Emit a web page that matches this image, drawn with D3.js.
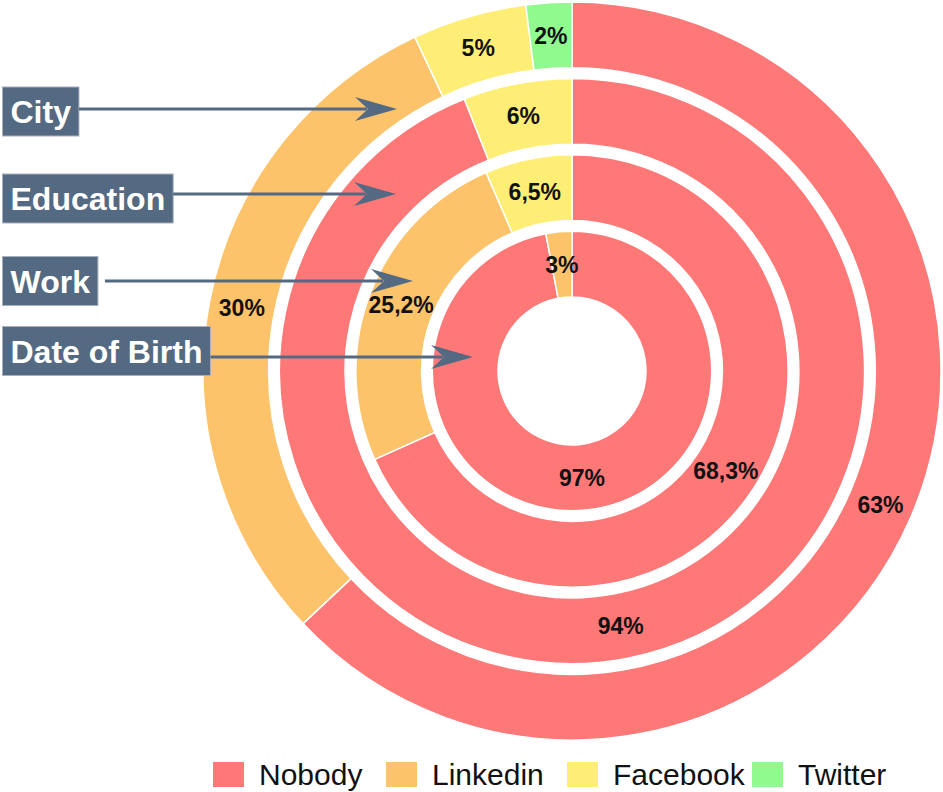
<!DOCTYPE html>
<html>
<head>
<meta charset="utf-8">
<script src="https://cdn.jsdelivr.net/npm/d3@7"></script>
<style>
  html, body { margin: 0; padding: 0; background: #ffffff; }
  svg { display: block; }
</style>
</head>
<body>
<div id="chart"></div>
<script>
// ---- data ----
const rings = ["City", "Education", "Work", "Date of Birth"];
const series = ["Nobody", "Linkedin", "Facebook", "Twitter"];
const nobody = [63, 94, 68.3, 97];
const linkedin = [30, 0, 25.2, 3];
const facebook = [5, 6, 6.5, 0];
const twitter = [2, 0, 0, 0];
const seriesColors = ["#FF7878", "#FCC36A", "#FFEE75", "#90FA8E"];

// ---- layout ----
const W = 943, H = 792;
const cx = 572, cy = 371;
const svg = d3.select("#chart").append("svg").attr("width", W).attr("height", H);
svg.append("rect").attr("width", W).attr("height", H).attr("fill", "#fff");

const color = d3.scaleOrdinal().domain(series).range(seriesColors);
const radius = d3.scaleBand().domain(rings.slice().reverse()).range([74, 369]).paddingInner(0.14);
const pie = d3.pie().sort(null).value(d => d.v);
const fmt = v => String(v).replace(".", ",") + "%";

const g = svg.append("g").attr("transform", `translate(${cx},${cy})`);

rings.forEach((ring, i) => {
  const vals = [nobody[i], linkedin[i], facebook[i], twitter[i]];
  const data = series.map((s, k) => ({ s, v: vals[k] })).filter(d => d.v > 0);
  const r0 = radius(ring), r1 = r0 + radius.bandwidth();
  const arc = d3.arc().innerRadius(r0).outerRadius(r1);
  const arcs = pie(data);
  const rg = g.append("g");
  rg.selectAll("path").data(arcs).join("path")
    .attr("d", arc)
    .attr("fill", d => color(d.data.s))
    .attr("stroke", "#fff")
    .attr("stroke-width", 1.5);
  rg.selectAll("text").data(arcs).join("text")
    .attr("transform", d => `translate(${arc.centroid(d)})`)
    .attr("text-anchor", "middle")
    .attr("dy", "0.36em")
    .attr("font-family", "'Liberation Sans', Arial, sans-serif")
    .attr("font-weight", "bold")
    .attr("font-size", 23)
    .attr("fill", "#111")
    .text(d => fmt(d.data.v));
});

// ---- annotations (ring name boxes with arrows) ----
const annot = [
  { name: "City", boxY: 111.5, arrowY: 109, startGap: 0, tipX: 397 },
  { name: "Education", boxY: 198.5, arrowY: 194, startGap: 0, tipX: 396 },
  { name: "Work", boxY: 281, arrowY: 281, startGap: 7, tipX: 413 },
  { name: "Date of Birth", boxY: 351, arrowY: 357, startGap: 0, tipX: 473 }
];
const slate = "#546A82";
const ag = svg.append("g");
annot.forEach(a => {
  const grp = ag.append("g");
  const rect = grp.append("rect");
  const t = grp.append("text")
    .attr("x", 2.5 + 8)
    .attr("y", a.boxY)
    .attr("dy", "0.36em")
    .attr("font-family", "'Liberation Sans', Arial, sans-serif")
    .attr("font-weight", "bold")
    .attr("font-size", 32)
    .attr("fill", "#fff")
    .text(a.name);
  const bw = t.node().getComputedTextLength() + 16;
  rect.attr("x", 2.5).attr("y", a.boxY - 24.5).attr("width", bw).attr("height", 49)
    .attr("fill", slate).attr("stroke", "#a7b0bb").attr("stroke-width", 1);
  t.raise();
  const x0 = 2.5 + bw + a.startGap;
  const tip = a.tipX, y = a.arrowY;
  grp.append("line")
    .attr("x1", x0).attr("y1", y).attr("x2", tip - 30).attr("y2", y)
    .attr("stroke", slate).attr("stroke-width", 3);
  grp.append("path")
    .attr("d", `M${tip},${y} L${tip - 42},${y - 12} L${tip - 29},${y} L${tip - 42},${y + 12} Z`)
    .attr("fill", slate);
});

// ---- legend ----
const legendX = [213, 386, 567, 752];
const lg = svg.append("g");
series.forEach((s, k) => {
  lg.append("rect").attr("x", legendX[k]).attr("y", 762).attr("width", 31).attr("height", 25)
    .attr("fill", color(s));
  lg.append("text").attr("x", legendX[k] + 46).attr("y", 774.5).attr("dy", "0.36em")
    .attr("font-family", "'Liberation Sans', Arial, sans-serif")
    .attr("font-size", 30).attr("fill", "#111").text(s);
});
</script>
</body>
</html>
